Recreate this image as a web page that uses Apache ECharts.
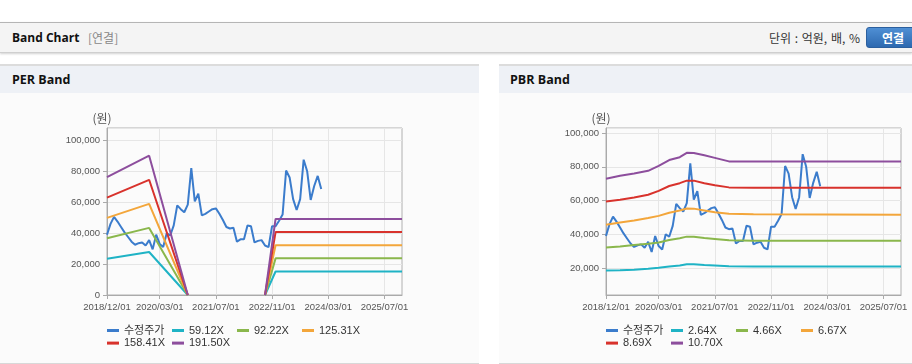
<!DOCTYPE html>
<html><head><meta charset="utf-8">
<script src="https://cdn.jsdelivr.net/npm/echarts@6/dist/echarts.min.js"></script>
<style>
html,body{margin:0;padding:0;width:912px;height:364px;overflow:hidden;background:#fff;font-family:"Open Sans","Noto Sans CJK KR",sans-serif;}
#top{position:absolute;left:0;top:22px;width:912px;height:29px;background:#f4f4f4;border-top:1px solid #b5b5b5;border-bottom:1px solid #cfcfcf;box-shadow:0 1px 2px rgba(0,0,0,0.18);}
#top .t{position:absolute;left:12px;top:0;line-height:29px;font-size:12px;font-weight:bold;color:#111;}
#top .s{position:absolute;left:88px;top:0;line-height:29px;font-size:12px;color:#888;font-family:"Noto Sans CJK KR",sans-serif;}
#top .u{position:absolute;right:52px;top:0;line-height:29px;font-size:12px;color:#333;font-family:"Noto Sans CJK KR",sans-serif;word-spacing:1px;}
#btn{position:absolute;left:866px;top:4px;width:52px;height:19px;border:1px solid #2b5f9e;border-radius:3px;background:linear-gradient(#4f8fd4,#2d69b0);color:#fff;font-weight:bold;font-size:12px;line-height:19px;text-align:center;font-family:"Noto Sans CJK KR",sans-serif;box-sizing:content-box;}
.panel{position:absolute;top:64px;height:297px;background:#fbfbfb;border-top:2px solid #dcdcdc;border-bottom:1px solid #d8d8d8;}
.panel .h{height:27px;background:#eef1f6;font-size:12.5px;font-weight:bold;color:#111;line-height:28px;padding-left:12px;}
.chart{position:absolute;top:93px;height:269px;}
</style></head><body>
<div id="top"><span class="t">Band Chart</span><span class="s">[연결]</span><span class="u">단위 : 억원, 배, %</span><div id="btn">연결</div></div>
<div class="panel" style="left:0;width:479px;"><div class="h">PER Band</div></div>
<div class="panel" style="left:499px;width:413px;"><div class="h" style="padding-left:11px;">PBR Band</div></div>
<div id="per" class="chart" style="left:0;width:479px;"></div>
<div id="pbr" class="chart" style="left:499px;width:413px;"></div>
<script>
// ---- data ----
const startYear = 2018, startMonth = 12, monthCount = 85; // 2018/12 .. 2025/12
const categories = [];
for (let i = 0; i < monthCount; i++) {
  const m = startMonth - 1 + i;
  const y = startYear + Math.floor(m / 12);
  const mm = (m % 12) + 1;
  categories.push(y + '/' + (mm < 10 ? '0' + mm : mm) + '/01');
}
const priceName = '수정주가';
const priceValues = [39000,46000,50500,47500,44000,40500,37500,34500,32500,33500,
  34000,32000,35500,29500,39000,33000,31000,40000,38500,45000,
  58000,55500,53500,58500,82000,60500,65500,51500,52500,54000,
  55500,56000,52500,48500,44000,43000,43500,34500,36000,36000,
  45000,44500,34000,35000,35500,32000,31000,44500,44500,48000,
  52000,80500,76000,62000,55000,62000,87500,80000,61500,70500,
  77000,68500];

const perNames = ['59.12X','92.22X','125.31X','158.41X','191.50X'];
const perIdx = [0, 12, 23, 34, 45, 48, 84];
const per1 = [23500, 27800, 0, null, 0, 15200, 15200];
const per2 = [36700, 43400, 0, null, 0, 23700, 23700];
const per3 = [49900, 58900, 0, null, 0, 32200, 32200];
const per4 = [63000, 74500, 0, null, 0, 40700, 40700];
const per5 = [76200, 90100, 0, null, 0, 49200, 49200];

const pbrNames = ['2.64X','4.66X','6.67X','8.69X','10.70X'];
const pbrIdx = [0, 4, 8, 12, 15, 18, 21, 23, 25, 28, 31, 35, 42, 84];
const pbr1 = [18500,18600,19000,19600,20200,20900,21500,22200,22300,21800,21500,21000,20900,20900];
const pbr2 = [32200,32800,33600,34400,35100,36600,37700,38600,38600,37800,37200,36400,36100,36100];
const pbr3 = [45600,47000,48100,49600,50900,52800,54100,55300,55200,54100,53000,52200,51800,51500];
const pbr4 = [59400,60400,61800,63400,65700,68600,70300,71800,71800,70200,69000,67800,67600,67600];
const pbr5 = [72900,74700,76000,77600,80500,84000,85700,88300,88200,86800,85300,83200,83100,83100];

const colors = ['#3b7ccc','#1fb3c5','#8ab74c','#f3a63b','#d8322c','#8d4e9d'];
const AX_FONT = '"Liberation Sans",Arial,sans-serif';
const LEG_FONT = '"Liberation Sans","Noto Sans CJK KR",sans-serif';

function tickFn(index) { return index === 0 || (index - 15) % 16 === 0; }
function pairs(idx, vals) { return idx.map((x, i) => [x, vals[i] == null ? '-' : vals[i]]); }
function commas(v) { return Math.round(v).toString().replace(/\B(?=(\d{3})+(?!\d))/g, ','); }

function makeOption(names, idx, bands, yAxisCfg) {
  const allNames = [priceName].concat(names);
  const series = [{
    name: priceName, type: 'line', data: priceValues, symbol: 'none',
    lineStyle: { width: 2, color: colors[0] }, itemStyle: { color: colors[0] }
  }];
  bands.forEach((b, i) => series.push({
    name: names[i], type: 'line', data: pairs(idx, b), symbol: 'none', connectNulls: false,
    lineStyle: { width: 2, color: colors[i + 1] }, itemStyle: { color: colors[i + 1] }
  }));
  const legends = allNames.map((n, i) => ({
    data: [n], left: 107 + (i % 4) * 65, top: 231 + Math.floor(i / 4) * 12.6,
    itemGap: 0, itemWidth: 12, itemHeight: 3, icon: 'rect', padding: 0,
    textStyle: { fontSize: 11, color: '#333', lineHeight: 13, fontFamily: LEG_FONT }
  }));
  return {
    animation: false,
    grid: { left: 107, top: 35, width: 295, height: 167, show: true, borderColor: '#b0b0b0', borderWidth: 1 },
    graphic: [{ type: 'text', x: 102, y: 25, style: { text: '(원)', fill: '#555', font: '12px "Noto Sans CJK KR",sans-serif', textAlign: 'center', textVerticalAlign: 'middle' } }],
    legend: legends,
    xAxis: {
      type: 'category', data: categories, boundaryGap: false,
      axisLine: { lineStyle: { color: '#aaa' } },
      axisTick: { show: true, interval: tickFn, length: 4, lineStyle: { color: '#aaa' } },
      axisLabel: { interval: tickFn, showMinLabel: true, color: '#555', fontSize: 9.5, fontFamily: AX_FONT, margin: 7 },
      splitLine: { show: true, interval: tickFn, lineStyle: { color: '#e6e6e6' } }
    },
    yAxis: Object.assign({
      type: 'value',
      axisLine: { show: true, lineStyle: { color: '#aaa' } },
      axisTick: { show: true, length: 4, lineStyle: { color: '#aaa' } },
      splitLine: { show: true, lineStyle: { color: '#e6e6e6' } }
    }, yAxisCfg),
    series: series
  };
}

const perChart = echarts.init(document.getElementById('per'), null, { renderer: 'canvas' });
perChart.setOption(makeOption(perNames, perIdx, [per1, per2, per3, per4, per5], {
  min: 0, max: 108000, interval: 20000,
  axisLabel: { showMaxLabel: false, formatter: commas, color: '#555', fontSize: 9.5, fontFamily: AX_FONT, margin: 7 }
}));
const pbrChart = echarts.init(document.getElementById('pbr'), null, { renderer: 'canvas' });
pbrChart.setOption(makeOption(pbrNames, pbrIdx, [pbr1, pbr2, pbr3, pbr4, pbr5], {
  min: 4000, max: 103000, splitNumber: 5,
  axisLabel: { showMinLabel: false, showMaxLabel: false, formatter: commas, color: '#555', fontSize: 9.5, fontFamily: AX_FONT, margin: 7 }
}));
</script>
</body></html>
